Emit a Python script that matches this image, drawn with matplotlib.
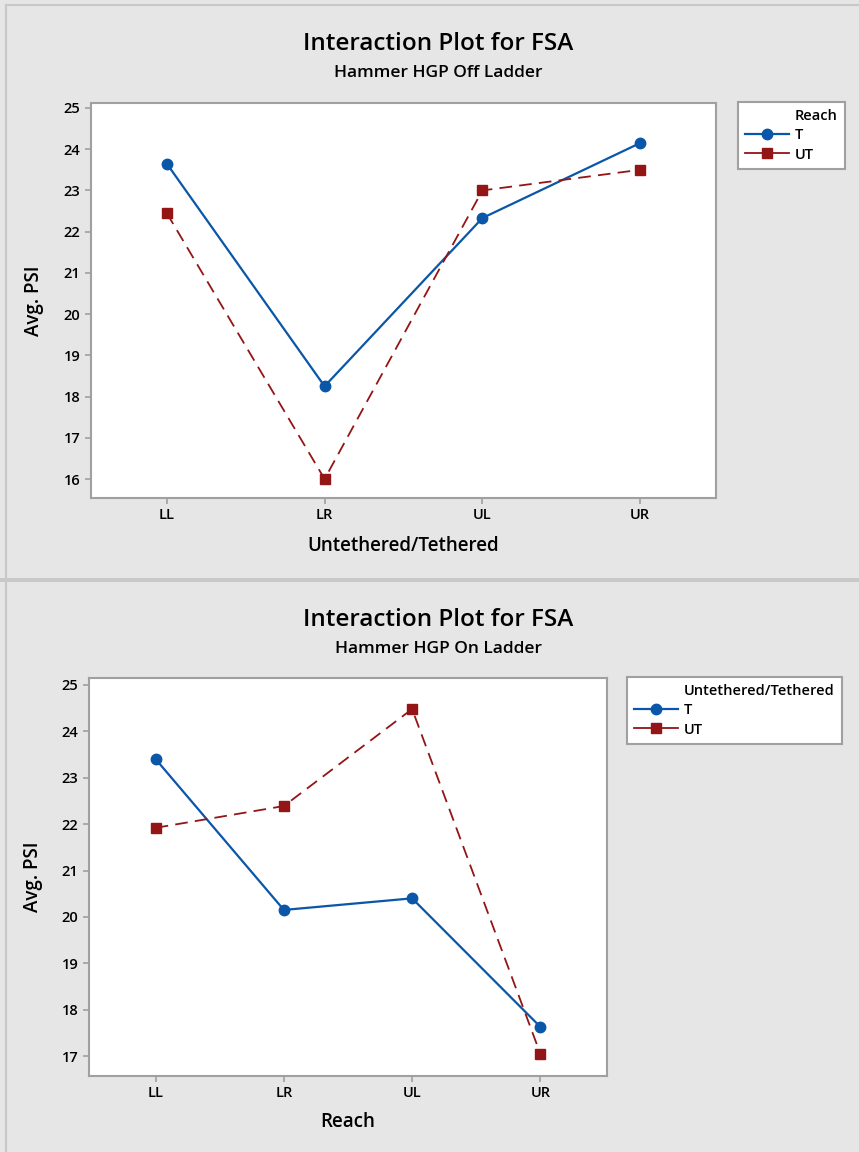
import matplotlib
matplotlib.use("Agg")
import matplotlib.pyplot as plt
from matplotlib.lines import Line2D
from matplotlib.patches import Rectangle

plt.rcParams['font.family'] = ['Open Sans', 'DejaVu Sans']

categories = ["LL", "LR", "UL", "UR"]

# Panel 1: Hammer HGP Off Ladder (x = Untethered/Tethered, legend = Reach)
off_T = [23.65, 18.25, 22.33, 24.15]
off_UT = [22.45, 16.0, 23.0, 23.5]
off_yticks = [16, 17, 18, 19, 20, 21, 22, 23, 24, 25]

# Panel 2: Hammer HGP On Ladder (x = Reach, legend = Untethered/Tethered)
on_T = [23.4, 20.15, 20.4, 17.63]
on_UT = [21.92, 22.39, 24.48, 17.05]
on_yticks = [17, 18, 19, 20, 21, 22, 23, 24, 25]

series_labels = ["T", "UT"]

W, H = 859, 1152
fig = plt.figure(figsize=(W / 100, H / 100), dpi=100)
BG = "#e6e6e6"
fig.patch.set_facecolor(BG)

BORDER = "#c8c8c8"
# panel borders (top/left edges) and separator
fig.add_artist(Line2D([6 / W, 6 / W], [0, 1 - 5 / H], transform=fig.transFigure,
                      color=BORDER, linewidth=1.5))
fig.add_artist(Line2D([6 / W, 1], [1 - 5 / H, 1 - 5 / H], transform=fig.transFigure,
                      color=BORDER, linewidth=1.5))
fig.patches.append(Rectangle((0, 1 - 582 / H), 1, 4 / H, transform=fig.transFigure,
                             facecolor=BORDER, edgecolor="none", zorder=-5))

BLUE = "#0a56a8"
RED = "#931515"
SPINE = "#a0a0a0"


def px_axes(x0, y0, x1, y1):
    return fig.add_axes([x0 / W, 1 - y1 / H, (x1 - x0) / W, (y1 - y0) / H])


def draw_panel(ax, T, UT, yticks, ylim, xlim, title_y, sub_y, subtitle, xlabel,
               legend_title, legend_bbox):
    x = list(range(len(categories)))
    ax.plot(x, T, color=BLUE, linewidth=1.6, marker="o", markersize=7.5, label="T", zorder=3)
    ax.plot(x, UT, color=RED, linewidth=1.3, linestyle=(0, (7, 4)), marker="s",
            markersize=7.5, label="UT", zorder=3)
    ax.set_xlim(*xlim)
    ax.set_ylim(*ylim)
    ax.set_xticks(x)
    ax.set_xticklabels(categories)
    ax.set_yticks(yticks)
    ax.set_facecolor("white")
    for s in ax.spines.values():
        s.set_color(SPINE)
        s.set_linewidth(1.5)
    ax.tick_params(axis="both", colors=SPINE, length=4, width=1.2, labelsize=10.5,
                   labelcolor="black")
    for lab in ax.get_xticklabels() + ax.get_yticklabels():
        lab.set_fontweight("semibold")
    ax.set_ylabel("Avg. PSI", fontsize=13.5, fontweight="semibold")
    ax.set_xlabel(xlabel, fontsize=13.5, fontweight="semibold")
    fig.text(0.51, 1 - title_y / H, "Interaction Plot for FSA", ha="center", va="center",
             fontsize=17.5, fontweight="semibold")
    fig.text(0.51, 1 - sub_y / H, subtitle, ha="center", va="center", fontsize=12.5,
             fontweight="semibold")
    handles = [Line2D([], [], color="none"),
               Line2D([], [], color=BLUE, linewidth=1.6, marker="o", markersize=7.5),
               Line2D([], [], color=RED, linewidth=1.3, marker="s", markersize=7.5)]
    leg = fig.legend(handles, [legend_title] + series_labels, loc="upper left",
                     bbox_to_anchor=legend_bbox, bbox_transform=fig.transFigure,
                     frameon=True, fancybox=False, framealpha=1, fontsize=10.5,
                     handlelength=3.0, handletextpad=0.4, borderpad=0.5,
                     labelspacing=0.35, borderaxespad=0)
    leg.get_frame().set_edgecolor(SPINE)
    leg.get_frame().set_linewidth(1.5)
    leg.get_frame().set_facecolor("white")
    for t in leg.get_texts():
        t.set_fontweight("semibold")


ax1 = px_axes(91, 103, 716, 498)
draw_panel(ax1, off_T, off_UT, off_yticks, (15.54, 25.12), (-0.48, 3.48), 44, 73,
           "Hammer HGP Off Ladder", "Untethered/Tethered", "Reach",
           (738 / W, 1 - 102 / H))
ax1.xaxis.set_label_coords(0.5, -0.095)

ax2 = px_axes(89, 678, 607, 1076)
draw_panel(ax2, on_T, on_UT, on_yticks, (16.57, 25.15), (-0.52, 3.52), 620, 649,
           "Hammer HGP On Ladder", "Reach", "Untethered/Tethered",
           (627 / W, 1 - 677 / H))
ax2.xaxis.set_label_coords(0.5, -0.09)

ax1.yaxis.set_label_coords(-0.075, 0.5)
ax2.yaxis.set_label_coords(-0.088, 0.5)

fig.savefig("out.png", dpi=100, facecolor=BG)
